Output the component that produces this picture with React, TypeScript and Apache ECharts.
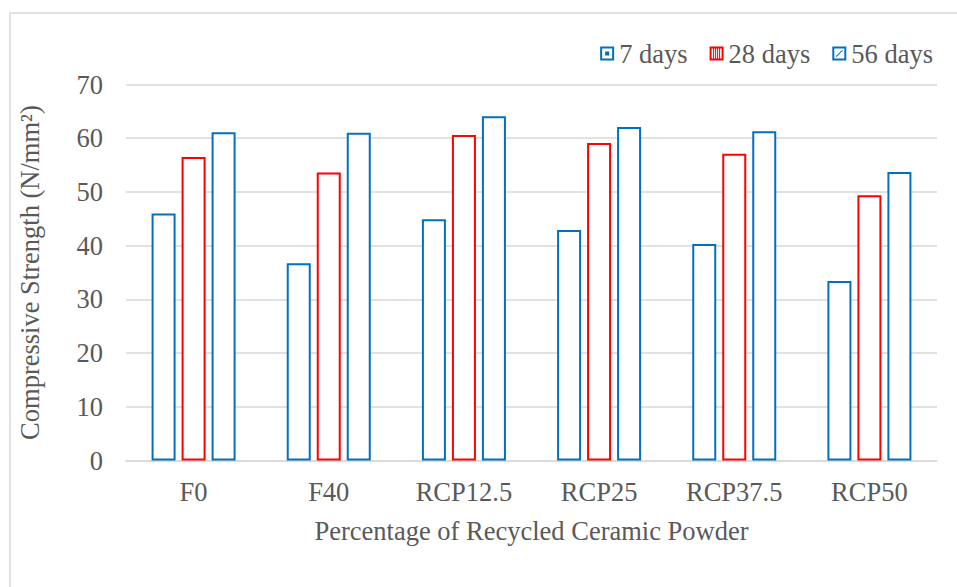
import React, { useEffect, useRef } from "react";
import * as echarts from "echarts";

// Mix designs on the category axis
const categories = ["F0", "F40", "RCP12.5", "RCP25", "RCP37.5", "RCP50"];

// Compressive strength (N/mm²) at each curing age
const days7 = [46.0, 36.7, 44.9, 42.9, 40.3, 33.4];
const days28 = [56.5, 53.6, 60.6, 59.1, 57.1, 49.4];
const days56 = [61.1, 61.0, 64.1, 62.1, 61.3, 53.7];

const seriesNames = ["7 days", "28 days", "56 days"];

const BLUE = "#0070C0";
const RED = "#FF0000";
const TEXT = "#595959";
const GRID = "#d9d9d9";
const FONT = "Liberation Serif";
const FS = 26.5;

// Legend swatches: outlined square with a small fill pattern inside
const RING = "M0 0H14V14H0Z M2 2V12H12V2Z";
const ICON_7 = "path://" + RING + " M5 5H9V9H5Z";
const ICON_28 =
  "path://" + RING + " M3.5 2H4.5V12H3.5Z M5.5 2H6.5V12H5.5Z M7.5 2H8.5V12H7.5Z M9.5 2H10.5V12H9.5Z";
const ICON_56 = "path://" + RING + " M3.5 9.8L9.8 3.5L10.5 4.2L4.2 10.5Z";

export default function App() {
  const ref = useRef<HTMLDivElement>(null);

  useEffect(() => {
    if (!ref.current) return;
    const chart = echarts.init(ref.current, undefined, { renderer: "svg" });

    const bar = (name: string, data: number[], color: string) => ({
      name,
      type: "bar",
      data,
      barWidth: 24,
      barGap: "25%",
      itemStyle: { color: "#ffffff", borderColor: color, borderWidth: 2 },
      emphasis: { disabled: true },
    });

    chart.setOption({
      animation: false,
      backgroundColor: "#ffffff",
      textStyle: { fontFamily: FONT, color: TEXT },
      graphic: [
        {
          type: "rect",
          shape: { x: 10, y: 13, width: 1200, height: 1200 },
          style: { fill: "none", stroke: GRID, lineWidth: 1.5 },
          silent: true,
        },
      ],
      legend: {
        right: 19,
        top: 35,
        itemWidth: 14,
        itemHeight: 14,
        itemGap: 22,
        textStyle: { fontFamily: FONT, fontSize: FS, color: TEXT },
        data: [
          { name: seriesNames[0], icon: ICON_7, itemStyle: { color: BLUE, borderWidth: 0 } },
          { name: seriesNames[1], icon: ICON_28, itemStyle: { color: RED, borderWidth: 0 } },
          { name: seriesNames[2], icon: ICON_56, itemStyle: { color: BLUE, borderWidth: 0 } },
        ],
      },
      grid: { left: 126, right: 20, top: 84.5, bottom: 126.5, containLabel: false },
      xAxis: {
        type: "category",
        data: categories,
        name: "Percentage of Recycled Ceramic Powder",
        nameLocation: "middle",
        nameGap: 57,
        nameTextStyle: { fontFamily: FONT, fontSize: FS, color: TEXT },
        axisLine: { lineStyle: { color: GRID, width: 1.5 } },
        axisTick: { show: false },
        axisLabel: { fontFamily: FONT, fontSize: FS, color: TEXT, margin: 18 },
      },
      yAxis: {
        type: "value",
        min: 0,
        max: 70,
        interval: 10,
        name: "Compressive Strength (N/mm²)",
        nameLocation: "middle",
        nameGap: 83,
        nameTextStyle: { fontFamily: FONT, fontSize: FS, color: TEXT },
        axisLine: { show: false },
        axisTick: { show: false },
        axisLabel: { fontFamily: FONT, fontSize: FS, color: TEXT, margin: 23 },
        splitLine: { lineStyle: { color: GRID, width: 1.5 } },
      },
      series: [
        bar(seriesNames[0], days7, BLUE),
        bar(seriesNames[1], days28, RED),
        bar(seriesNames[2], days56, BLUE),
      ],
    });

    return () => chart.dispose();
  }, []);

  return (
    <div
      ref={ref}
      style={{ position: "absolute", left: 0, top: 0, width: 957, height: 587 }}
    />
  );
}
